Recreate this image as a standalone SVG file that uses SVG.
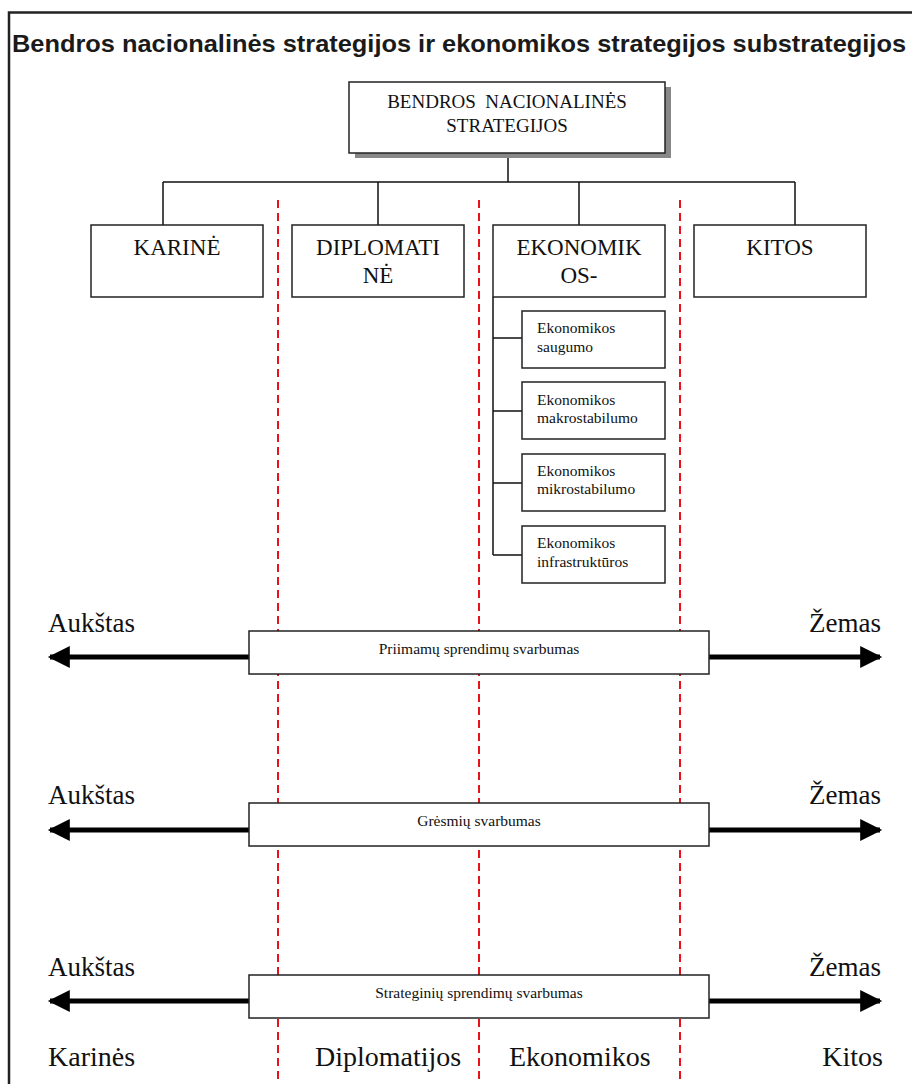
<svg xmlns="http://www.w3.org/2000/svg" width="912" height="1084" viewBox="0 0 912 1084">
<style>
.box{fill:#fff;stroke:#222;stroke-width:1.5}
.conn{fill:none;stroke:#111;stroke-width:1.5}
.red{stroke:#e8121a;stroke-width:2;stroke-dasharray:8 5;fill:none}
.big{font-size:23px;text-anchor:middle}
.sub{font-size:15.5px}
.lab{font-size:27px}
.bot{font-size:28px}
.bar{font-size:15.5px;text-anchor:middle}
.arr{stroke:#000;stroke-width:5;fill:none}
</style>
<defs>
<marker id="ah" viewBox="0 0 10 10" refX="9" refY="5" markerWidth="4.6" markerHeight="4.4" orient="auto" markerUnits="strokeWidth">
<path d="M0,0 L10,5 L0,10 Z" fill="#000"/>
</marker>
</defs>
<rect width="912" height="1084" fill="#fff"/>
<g id="frame">
<path d="M9,1084 V12.5 H912" fill="none" stroke="#222" stroke-width="2.5"/>
<text x="12" y="52" font-family="'Liberation Sans', Arial, sans-serif" font-weight="bold" font-size="24" fill="#1a1a1a" textLength="894" lengthAdjust="spacingAndGlyphs">Bendros nacionalinės strategijos ir ekonomikos strategijos substrategijos</text>
</g>
<g id="dividers">
<line class="red" x1="278" y1="200" x2="278" y2="1084"/>
<line class="red" x1="479" y1="200" x2="479" y2="1084"/>
<line class="red" x1="680" y1="200" x2="680" y2="1084"/>
</g>
<g id="connectors">
<path class="conn" d="M508,153 V182 M163,182 H795 M163,182 V225 M378,182 V225 M579,182 V225 M795,182 V225"/>
<path class="conn" d="M493,297 V555 M493,338 H522 M493,411 H522 M493,483 H522 M493,555 H522"/>
</g>
<g font-family="'Liberation Serif', 'Times New Roman', serif" fill="#111">
<g id="root">
<rect x="355" y="87" width="316" height="71" fill="#888"/>
<rect class="box" x="349" y="82" width="316" height="71"/>
<text x="507" y="108" font-size="19" text-anchor="middle" xml:space="preserve">BENDROS  NACIONALINĖS</text>
<text x="507" y="132" font-size="19" text-anchor="middle">STRATEGIJOS</text>
</g>
<g id="karine">
<rect class="box" x="91" y="225" width="172" height="72"/>
<text class="big" x="177" y="255">KARINĖ</text>
</g>
<g id="diplomatine">
<rect class="box" x="292" y="225" width="172" height="72"/>
<text class="big" x="378" y="255">DIPLOMATI</text>
<text class="big" x="378" y="283">NĖ</text>
</g>
<g id="ekonomikos">
<rect class="box" x="493" y="225" width="172" height="72"/>
<text class="big" x="579" y="255">EKONOMIK</text>
<text class="big" x="579" y="283">OS-</text>
</g>
<g id="kitos">
<rect class="box" x="694" y="225" width="172" height="72"/>
<text class="big" x="780" y="255">KITOS</text>
</g>
<g id="ek-saugumo">
<rect class="box" x="522" y="311" width="143" height="57"/>
<text class="sub" x="537" y="333">Ekonomikos</text>
<text class="sub" x="537" y="352">saugumo</text>
</g>
<g id="ek-makro">
<rect class="box" x="522" y="382" width="143" height="57"/>
<text class="sub" x="537" y="405">Ekonomikos</text>
<text class="sub" x="537" y="423">makrostabilumo</text>
</g>
<g id="ek-mikro">
<rect class="box" x="522" y="454" width="143" height="57"/>
<text class="sub" x="537" y="476">Ekonomikos</text>
<text class="sub" x="537" y="494">mikrostabilumo</text>
</g>
<g id="ek-infra">
<rect class="box" x="522" y="526" width="143" height="57"/>
<text class="sub" x="537" y="548">Ekonomikos</text>
<text class="sub" x="537" y="567">infrastruktūros</text>
</g>
<g id="scale-1">
<text class="lab" x="48" y="632">Aukštas</text>
<text class="lab" x="881" y="632" text-anchor="end">Žemas</text>
<line class="arr" x1="249" y1="657" x2="50" y2="657" marker-end="url(#ah)"/>
<line class="arr" x1="709" y1="657" x2="880" y2="657" marker-end="url(#ah)"/>
<rect class="box" x="249" y="631" width="460" height="43"/>
<text class="bar" x="479" y="654">Priimamų sprendimų svarbumas</text>
</g>
<g id="scale-2">
<text class="lab" x="48" y="804">Aukštas</text>
<text class="lab" x="881" y="804" text-anchor="end">Žemas</text>
<line class="arr" x1="249" y1="830" x2="50" y2="830" marker-end="url(#ah)"/>
<line class="arr" x1="709" y1="830" x2="880" y2="830" marker-end="url(#ah)"/>
<rect class="box" x="249" y="803" width="460" height="43"/>
<text class="bar" x="479" y="826">Grėsmių svarbumas</text>
</g>
<g id="scale-3">
<text class="lab" x="48" y="976">Aukštas</text>
<text class="lab" x="881" y="976" text-anchor="end">Žemas</text>
<line class="arr" x1="249" y1="1001" x2="50" y2="1001" marker-end="url(#ah)"/>
<line class="arr" x1="709" y1="1001" x2="880" y2="1001" marker-end="url(#ah)"/>
<rect class="box" x="249" y="975" width="460" height="43"/>
<text class="bar" x="479" y="998">Strateginių sprendimų svarbumas</text>
</g>
<g id="bottom-labels">
<text class="bot" x="48" y="1066">Karinės</text>
<text class="bot" x="315" y="1066">Diplomatijos</text>
<text class="bot" x="509" y="1066">Ekonomikos</text>
<text class="bot" x="883" y="1066" text-anchor="end">Kitos</text>
</g>
</g>
</svg>
